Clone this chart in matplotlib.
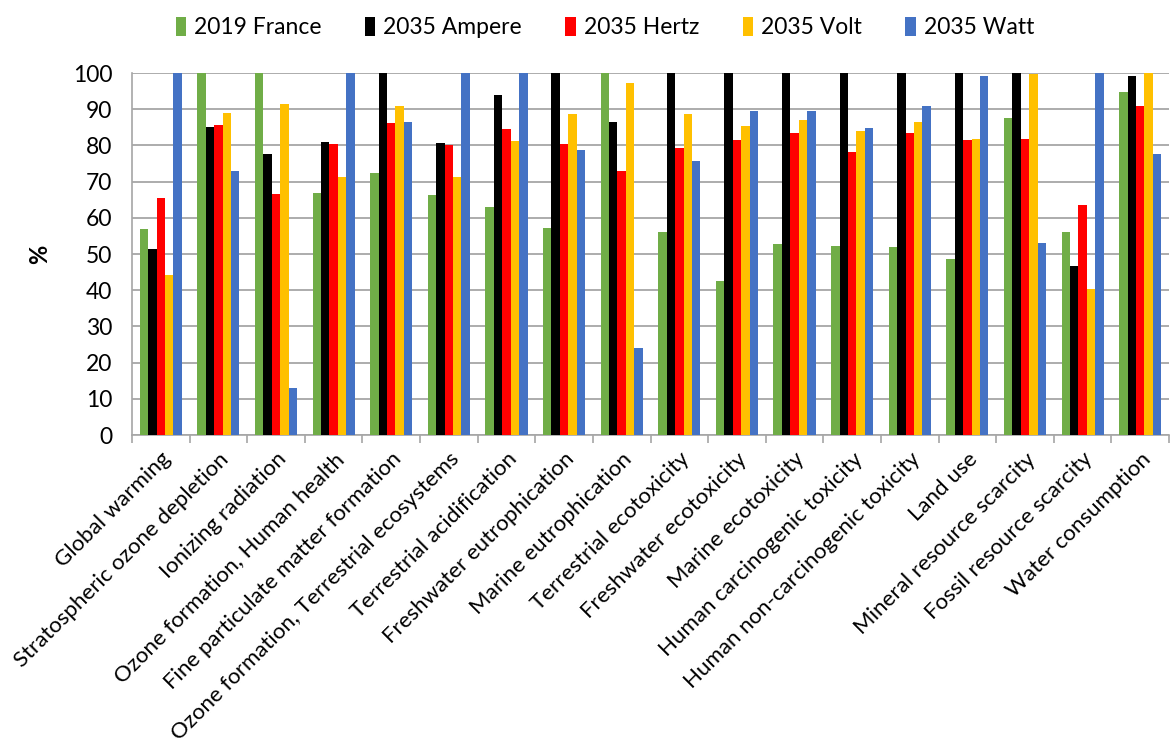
import numpy as np
import matplotlib
matplotlib.use("Agg")
import matplotlib.pyplot as plt

plt.rcParams['font.family'] = ['Lato', 'DejaVu Sans']

categories = ["Global warming", "Stratospheric ozone depletion", "Ionizing radiation",
              "Ozone formation, Human health", "Fine particulate matter formation",
              "Ozone formation, Terrestrial ecosystems", "Terrestrial acidification",
              "Freshwater eutrophication", "Marine eutrophication", "Terrestrial ecotoxicity",
              "Freshwater ecotoxicity", "Marine ecotoxicity", "Human carcinogenic toxicity",
              "Human non-carcinogenic toxicity", "Land use", "Mineral resource scarcity",
              "Fossil resource scarcity", "Water consumption"]

france_2019 = [56.9, 100, 100, 66.9, 72.3, 66.3, 62.9, 57.1, 100, 56.1, 42.5, 52.8, 52.3, 51.9, 48.6, 87.5, 56.0, 94.7]
ampere_2035 = [51.3, 85.1, 77.6, 80.9, 100, 80.8, 93.9, 100, 86.6, 100, 100, 100, 100, 100, 100, 100, 46.6, 99.3]
hertz_2035 = [65.4, 85.6, 66.6, 80.3, 86.3, 80.2, 84.6, 80.5, 73.0, 79.3, 81.4, 83.3, 78.2, 83.4, 81.4, 81.9, 63.4, 90.8]
volt_2035 = [44.2, 88.9, 91.4, 71.4, 90.8, 71.2, 81.2, 88.6, 97.1, 88.7, 85.4, 87.0, 83.9, 86.6, 81.7, 99.8, 40.2, 100]
watt_2035 = [100, 72.8, 13.0, 100, 86.4, 100, 100, 78.6, 24.0, 75.7, 89.4, 89.4, 84.7, 90.8, 99.3, 53.1, 100, 77.6]

series = [("2019 France", france_2019, "#70AD47"),
          ("2035 Ampere", ampere_2035, "#000000"),
          ("2035 Hertz", hertz_2035, "#FF0000"),
          ("2035 Volt", volt_2035, "#FFC000"),
          ("2035 Watt", watt_2035, "#4472C4")]

fig = plt.figure(figsize=(11.7, 7.47), dpi=100)
ax = fig.add_axes([132/1170, 1 - 435/747, (1169-132)/1170, (435-73)/747])

x = np.arange(len(categories))
w = 0.146
for i, (name, vals, col) in enumerate(series):
    ax.bar(x + (i - 2) * w, vals, width=w, color=col, label=name, zorder=3)

ax.set_xlim(-0.5, len(categories) - 0.5)
ax.set_ylim(0, 100)
ax.set_yticks(np.arange(0, 101, 10))
ax.yaxis.grid(True, color='#A6A6A6', linewidth=1.3, zorder=0)
ax.tick_params(axis='y', length=0, labelsize=16.5, pad=14)

ax.set_xticks(x)
ax.set_xticklabels(categories, rotation=45, ha='right', rotation_mode='anchor', fontsize=16)
ax.tick_params(axis='x', which='major', length=0, pad=10)
ax.set_xticks(np.arange(-0.5, len(categories)), minor=True)
ax.tick_params(axis='x', which='minor', length=6, color='#A6A6A6', width=1.2)

for s in ['top', 'right']:
    ax.spines[s].set_visible(False)
for s in ['left', 'bottom']:
    ax.spines[s].set_color('#A6A6A6')
    ax.spines[s].set_linewidth(1.2)

ax.set_ylabel('%', fontsize=17, fontweight='bold', labelpad=16)

fig.legend(loc='upper center', bbox_to_anchor=(0.517, 1.005), ncol=5, frameon=False,
           fontsize=16.5, handlelength=0.45, handleheight=0.9, handletextpad=0.35,
           columnspacing=1.9)

fig.savefig('out.png', dpi=100)
